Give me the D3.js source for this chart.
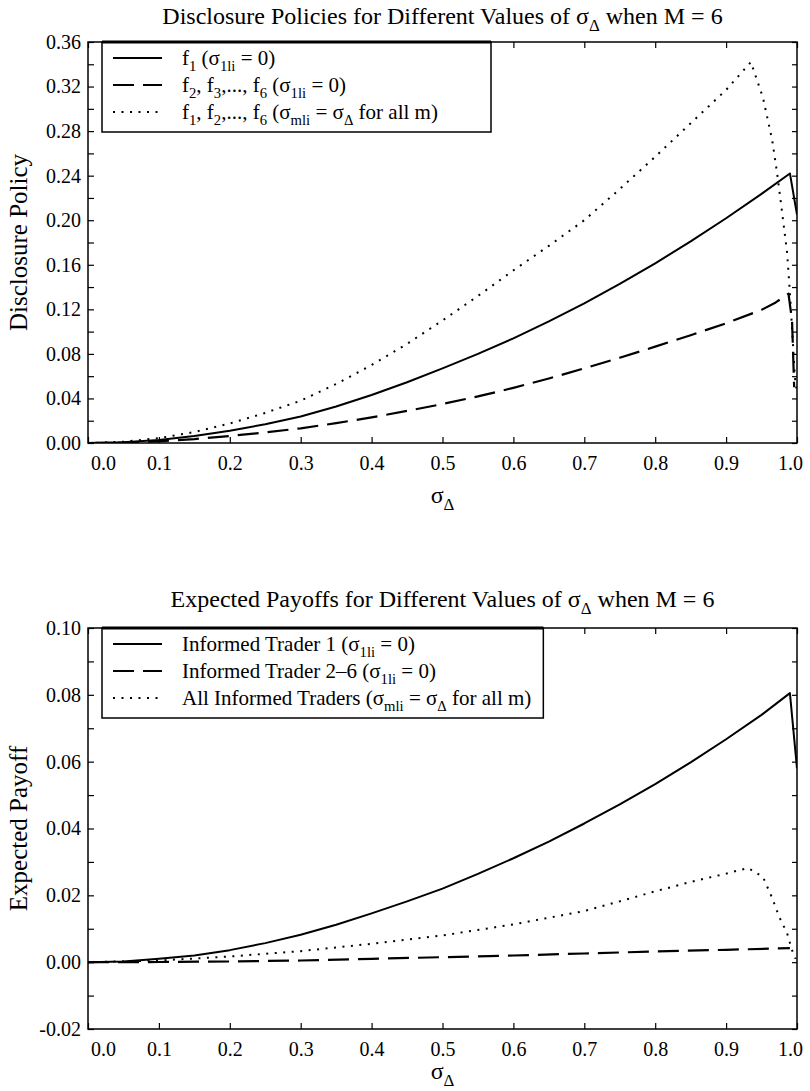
<!DOCTYPE html>
<html>
<head>
<meta charset="utf-8">
<script src="https://cdn.jsdelivr.net/npm/d3@7"></script>
<style>
  body { margin: 0; background: #fff; }
  svg text { font-family: "Liberation Serif", "DejaVu Serif", serif; fill: #000; }
</style>
</head>
<body>
<svg id="chart" width="810" height="1091"></svg>
<script>
'use strict';

// ---- data ----
var xTicks = [0, 0.1, 0.2, 0.3, 0.4, 0.5, 0.6, 0.7, 0.8, 0.9, 1.0];
var policyTicks = [0, 0.04, 0.08, 0.12, 0.16, 0.20, 0.24, 0.28, 0.32, 0.36];
var payoffTicks = [-0.02, 0, 0.02, 0.04, 0.06, 0.08, 0.10];

// top panel: disclosure policy
var f1X = [0, 0.05, 0.1, 0.15, 0.2, 0.25, 0.3, 0.35, 0.4, 0.45, 0.5, 0.55, 0.6, 0.65, 0.7, 0.75, 0.8, 0.85, 0.9, 0.95, 0.99, 1.0];
var f1Y = [0, 0.0007, 0.0028, 0.0063, 0.0110, 0.0168, 0.0238, 0.0328, 0.0431, 0.0545, 0.067, 0.080, 0.094, 0.1092, 0.1254, 0.1428, 0.1613, 0.181, 0.2018, 0.2237, 0.242, 0.205];

var f2X = [0, 0.05, 0.1, 0.15, 0.2, 0.25, 0.3, 0.35, 0.4, 0.45, 0.5, 0.55, 0.6, 0.65, 0.7, 0.75, 0.8, 0.85, 0.9, 0.95, 0.97, 0.988, 0.993, 0.996];
var f2Y = [0, 0.0003, 0.0015, 0.0035, 0.0063, 0.0095, 0.0132, 0.0178, 0.0230, 0.0288, 0.0350, 0.0418, 0.0495, 0.0579, 0.0670, 0.0765, 0.0865, 0.0968, 0.1075, 0.1195, 0.1262, 0.134, 0.11, 0.05];

var fAllX = [0, 0.05, 0.1, 0.15, 0.2, 0.25, 0.3, 0.35, 0.4, 0.45, 0.5, 0.55, 0.6, 0.65, 0.7, 0.75, 0.8, 0.85, 0.9, 0.935, 0.952, 0.965, 0.972, 0.979, 0.986, 0.99, 0.994, 0.997, 1.0];
var fAllY = [0, 0.0011, 0.0044, 0.0098, 0.0175, 0.027, 0.038, 0.053, 0.070, 0.089, 0.110, 0.132, 0.155, 0.177, 0.200, 0.228, 0.257, 0.287, 0.317, 0.342, 0.31, 0.272, 0.242, 0.207, 0.171, 0.135, 0.092, 0.059, 0.045];

// bottom panel: expected payoffs
var p1X = [0, 0.05, 0.1, 0.15, 0.2, 0.25, 0.3, 0.35, 0.4, 0.45, 0.5, 0.55, 0.6, 0.65, 0.7, 0.75, 0.8, 0.85, 0.9, 0.95, 0.99, 1.0];
var p1Y = [0, 0.0002, 0.001, 0.002, 0.0036, 0.0057, 0.0082, 0.0112, 0.0146, 0.0182, 0.022, 0.0264, 0.0311, 0.0361, 0.0415, 0.0472, 0.0533, 0.0598, 0.0667, 0.0740, 0.0805, 0.058];

var p2X = [0, 0.1, 0.2, 0.3, 0.4, 0.5, 0.6, 0.7, 0.8, 0.9, 0.99];
var p2Y = [0, 0.00005, 0.0002, 0.0005, 0.001, 0.0015, 0.002, 0.0026, 0.0032, 0.0037, 0.0042];

var pAllX = [0, 0.1, 0.2, 0.3, 0.4, 0.5, 0.6, 0.7, 0.75, 0.8, 0.85, 0.9, 0.931, 0.952, 0.965, 0.975, 0.986, 0.993, 0.998];
var pAllY = [0, 0.0005, 0.0017, 0.0033, 0.0055, 0.008, 0.0113, 0.0153, 0.0182, 0.0212, 0.0240, 0.0265, 0.0282, 0.0255, 0.0192, 0.0135, 0.0087, 0.0036, 0.001];

// ---- layout ----
var plotLeft = 88, plotRight = 797;
var fontStack = '"Liberation Serif", "DejaVu Serif", serif';
var svg = d3.select('#chart');

var styles = {
    solid: { width: 2, dash: null },
    dashed: { width: 2.2, dash: '21,9' },
    dotted: { width: 2, dash: '2,6.5' }
};

/**
 * Write text made of plain and subscript pieces into a text element
 */
function richText(sel, parts, size) {
    var shift = size * 0.3;
    var down = false;
    parts.forEach(function(p) {
        var t = sel.append('tspan').text(p[0]);
        if (p[1] === 'sub') {
            t.attr('font-size', size * 0.7).attr('dy', down ? 0 : shift);
            down = true;
        } else if (down) {
            t.attr('dy', -shift);
            down = false;
        }
    });
}

function zip(xs, ys) {
    return xs.map(function(x, i) { return [x, ys[i]]; });
}

function styleAxis(a) {
    a.select('.domain').remove();
    a.attr('font-family', null).attr('font-size', null);
    a.selectAll('.tick line').attr('stroke', '#000').attr('stroke-width', 1.2);
    a.selectAll('.tick text')
        .style('font-family', fontStack)
        .style('font-size', '20px')
        .attr('fill', '#000');
}

function drawPanel(cfg) {
    var x = d3.scaleLinear().domain([0, 1]).range([plotLeft, plotRight]);
    var y = d3.scaleLinear().domain(cfg.yDomain).range([cfg.bottom, cfg.top]);
    var g = svg.append('g');

    // title
    var title = g.append('text')
        .attr('x', (plotLeft + plotRight) / 2)
        .attr('y', cfg.titleY)
        .attr('text-anchor', 'middle')
        .attr('font-size', 24);
    richText(title, cfg.title, 24);

    // minor y ticks (half steps)
    var step = cfg.yTicks[1] - cfg.yTicks[0];
    var minor = [];
    for (var i = 0; i < cfg.yTicks.length - 1; i++) minor.push(cfg.yTicks[i] + step / 2);

    var fmtY = function(d) { return d3.format('.2f')(d).replace('\u2212', '-'); };

    g.append('g').attr('transform', 'translate(' + plotLeft + ',0)')
        .call(d3.axisLeft(y).tickValues(cfg.yTicks).tickSize(-6).tickPadding(7).tickFormat(fmtY))
        .call(styleAxis);
    g.append('g').attr('transform', 'translate(' + plotLeft + ',0)')
        .call(d3.axisLeft(y).tickValues(minor).tickSize(-6).tickFormat(''))
        .call(styleAxis);
    g.append('g').attr('transform', 'translate(' + plotRight + ',0)')
        .call(d3.axisRight(y).tickValues(cfg.yTicks.concat(minor)).tickSize(-5).tickFormat(''))
        .call(styleAxis);

    var xAxis = g.append('g').attr('transform', 'translate(0,' + cfg.bottom + ')')
        .call(d3.axisBottom(x).tickValues(xTicks).tickSize(-6).tickPadding(13).tickFormat(d3.format('.1f')))
        .call(styleAxis);
    g.append('g').attr('transform', 'translate(0,' + cfg.top + ')')
        .call(d3.axisTop(x).tickValues(xTicks).tickSize(-6).tickFormat(''))
        .call(styleAxis);
    // first and last x labels are nudged inside the frame
    xAxis.selectAll('.tick text').filter(function(d) { return d === 0; }).attr('dx', 15);
    xAxis.selectAll('.tick text').filter(function(d) { return d === 1; }).attr('dx', -7);

    // curves
    var clip = 'clip' + cfg.id;
    g.append('clipPath').attr('id', clip).append('rect')
        .attr('x', plotLeft).attr('y', cfg.top)
        .attr('width', plotRight - plotLeft).attr('height', cfg.bottom - cfg.top);
    var line = d3.line().x(function(d) { return x(d[0]); }).y(function(d) { return y(d[1]); });
    cfg.series.forEach(function(s) {
        var st = styles[s.style];
        g.append('path')
            .attr('clip-path', 'url(#' + clip + ')')
            .attr('d', line(zip(s.x, s.y)))
            .attr('fill', 'none')
            .attr('stroke', '#000')
            .attr('stroke-width', st.width)
            .attr('stroke-linejoin', 'round')
            .attr('stroke-dasharray', st.dash);
    });

    // frame
    g.append('rect')
        .attr('x', plotLeft).attr('y', cfg.top)
        .attr('width', plotRight - plotLeft).attr('height', cfg.bottom - cfg.top)
        .attr('fill', 'none').attr('stroke', '#000').attr('stroke-width', 1.5);

    // legend
    var lg = g.append('g');
    var box = lg.append('rect')
        .attr('x', 102).attr('y', cfg.top)
        .attr('height', 90)
        .attr('fill', '#fff').attr('stroke', '#000').attr('stroke-width', 1.5);
    var textEnd = 0;
    cfg.series.forEach(function(s, i) {
        var ly = cfg.top + 16 + i * 27;
        var st = styles[s.style];
        lg.append('line')
            .attr('x1', 113).attr('x2', 162).attr('y1', ly).attr('y2', ly)
            .attr('stroke', '#000').attr('stroke-width', st.width)
            .attr('stroke-dasharray', st.dash);
        var t = lg.append('text').attr('x', 182).attr('y', ly + 7).attr('font-size', 21);
        richText(t, s.label, 21);
        textEnd = Math.max(textEnd, 182 + t.node().getComputedTextLength());
    });
    var boxRight = Math.max(cfg.legendRight, textEnd + 12);
    box.attr('width', boxRight - 102);
    lg.append('line').attr('x1', 102).attr('x2', boxRight).attr('y1', cfg.top).attr('y2', cfg.top)
        .attr('stroke', '#000').attr('stroke-width', 3);

    // axis labels
    var xl = g.append('text')
        .attr('x', (plotLeft + plotRight) / 2).attr('y', cfg.xLabelY)
        .attr('text-anchor', 'middle').attr('font-size', 24);
    richText(xl, [['\u03C3', ''], ['\u0394', 'sub']], 24);

    g.append('text')
        .attr('transform', 'translate(27,' + ((cfg.top + cfg.bottom) / 2) + ') rotate(-90)')
        .attr('text-anchor', 'middle').attr('font-size', 25)
        .text(cfg.yLabel);
}

drawPanel({
    id: 'top',
    top: 42, bottom: 443,
    titleY: 24, xLabelY: 503,
    legendRight: 491,
    yDomain: [0, 0.36],
    yTicks: policyTicks,
    yLabel: 'Disclosure Policy',
    title: [['Disclosure Policies for Different Values of \u03C3', ''], ['\u0394', 'sub'], [' when M = 6', '']],
    series: [
        { x: f1X, y: f1Y, style: 'solid',
          label: [['f', ''], ['1', 'sub'], [' (\u03C3', ''], ['1li', 'sub'], [' = 0)', '']] },
        { x: f2X, y: f2Y, style: 'dashed',
          label: [['f', ''], ['2', 'sub'], [', f', ''], ['3', 'sub'], [',..., f', ''], ['6', 'sub'], [' (\u03C3', ''], ['1li', 'sub'], [' = 0)', '']] },
        { x: fAllX, y: fAllY, style: 'dotted',
          label: [['f', ''], ['1', 'sub'], [', f', ''], ['2', 'sub'], [',..., f', ''], ['6', 'sub'], [' (\u03C3', ''], ['mli', 'sub'], [' = \u03C3', ''], ['\u0394', 'sub'], [' for all m)', '']] }
    ]
});

drawPanel({
    id: 'bottom',
    top: 628, bottom: 1029,
    titleY: 607, xLabelY: 1079,
    legendRight: 491,
    yDomain: [-0.02, 0.10],
    yTicks: payoffTicks,
    yLabel: 'Expected Payoff',
    title: [['Expected Payoffs for Different Values of \u03C3', ''], ['\u0394', 'sub'], [' when M = 6', '']],
    series: [
        { x: p1X, y: p1Y, style: 'solid',
          label: [['Informed Trader 1 (\u03C3', ''], ['1li', 'sub'], [' = 0)', '']] },
        { x: p2X, y: p2Y, style: 'dashed',
          label: [['Informed Trader 2\u20136 (\u03C3', ''], ['1li', 'sub'], [' = 0)', '']] },
        { x: pAllX, y: pAllY, style: 'dotted',
          label: [['All Informed Traders (\u03C3', ''], ['mli', 'sub'], [' = \u03C3', ''], ['\u0394', 'sub'], [' for all m)', '']] }
    ]
});
</script>
</body>
</html>
